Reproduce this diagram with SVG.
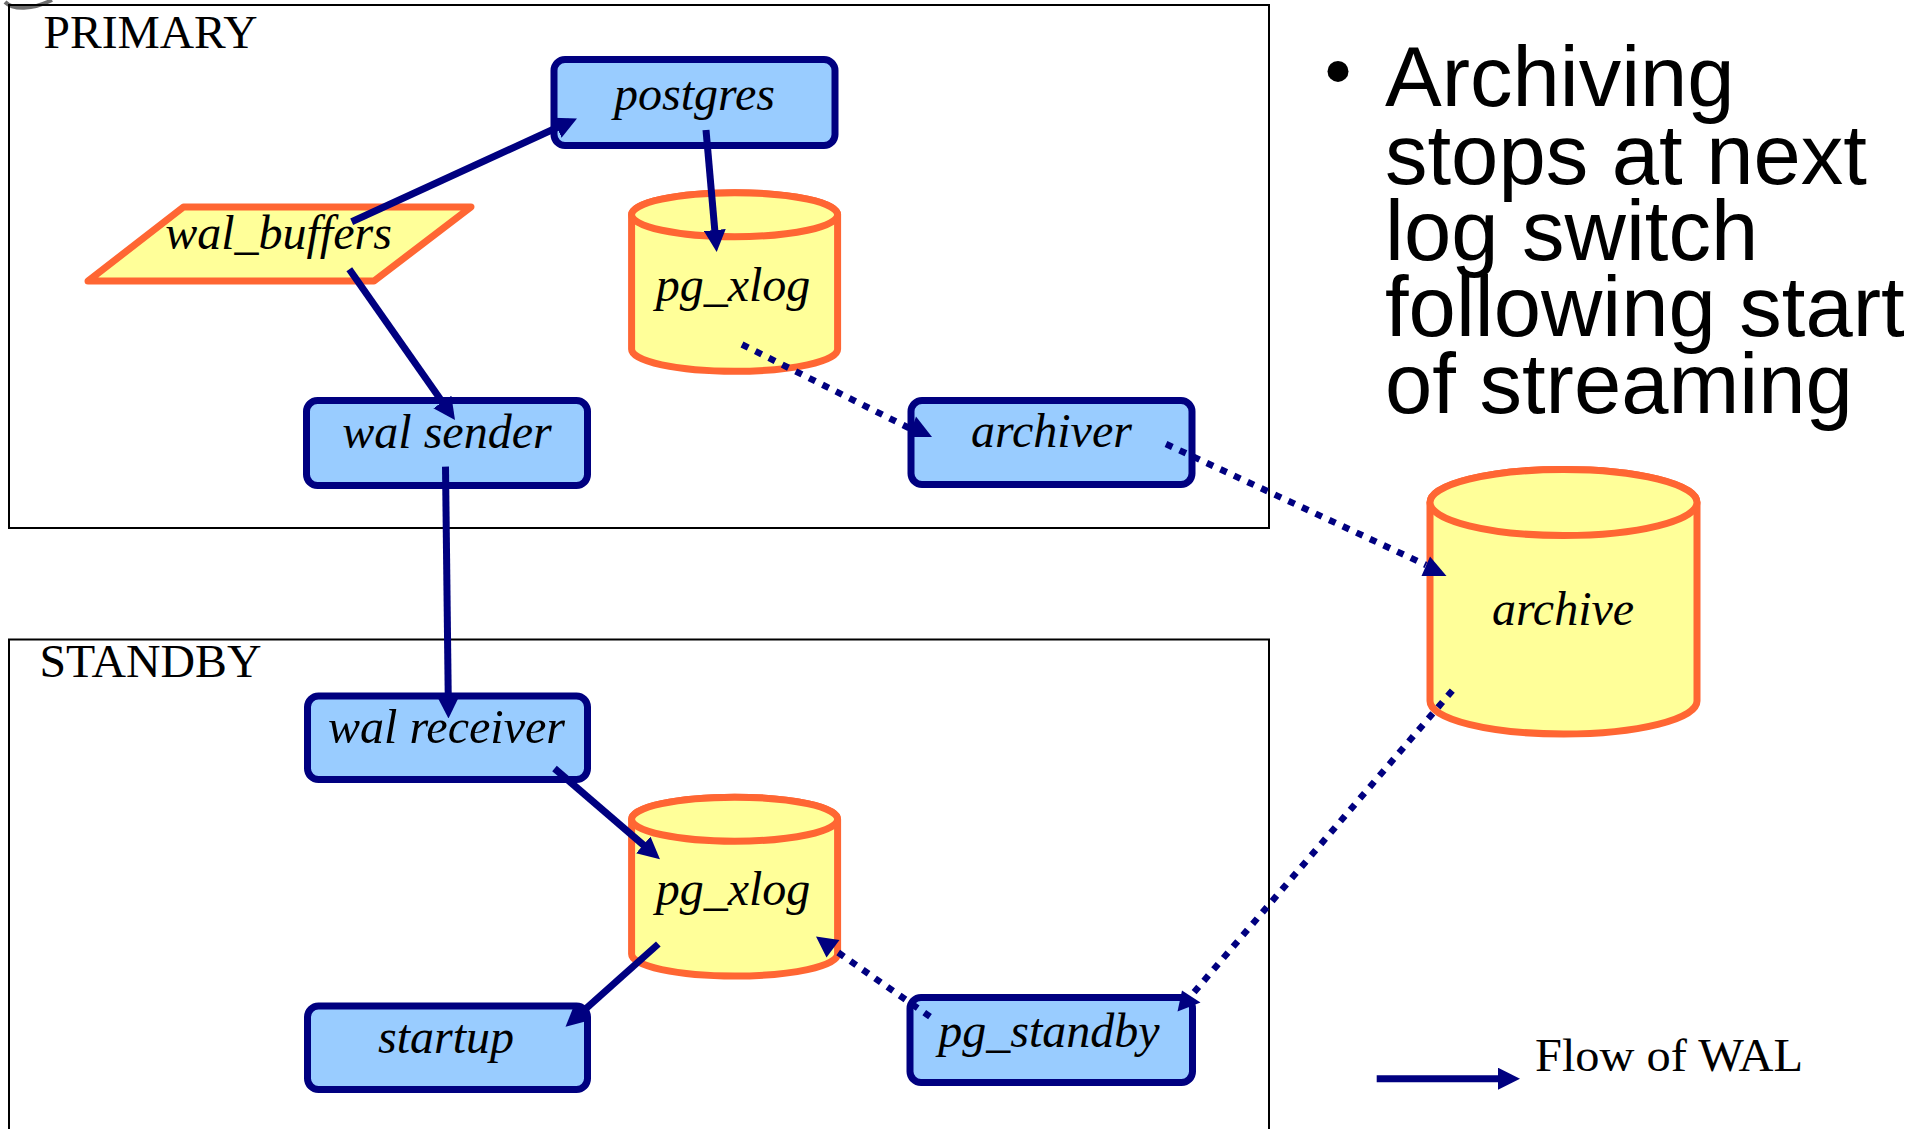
<svg xmlns="http://www.w3.org/2000/svg" width="1930" height="1129" viewBox="0 0 1930 1129">
  <style>
    .frame { fill: none; stroke: #000000; stroke-width: 2; }
    .frame-label { font-family: "Liberation Serif", "Times New Roman", serif; font-size: 47px; fill: #000000; }
    .proc { fill: #99CCFF; stroke: #000080; stroke-width: 7; }
    .store { fill: #FFFF99; stroke: #FF6633; stroke-width: 7; stroke-linejoin: round; }
    .label { font-family: "Liberation Serif", "Times New Roman", serif; font-style: italic; font-size: 48px; fill: #000000; text-anchor: middle; }
    .flow { fill: none; stroke: #000080; stroke-width: 7; }
    .copy { fill: none; stroke: #000080; stroke-width: 6.5; stroke-dasharray: 7 8; }
    .head { fill: #000080; }
    .bullet-text { font-family: "Liberation Sans", Arial, sans-serif; font-size: 85px; fill: #000000; }
    .legend { font-family: "Liberation Serif", "Times New Roman", serif; font-size: 47px; fill: #000000; }
  </style>
  <defs>
    <marker id="arrow" viewBox="0 0 22 22" refX="14" refY="11" markerWidth="22" markerHeight="22" markerUnits="userSpaceOnUse" orient="auto">
      <path d="M0,0 L22,11 L0,22 z" fill="#000080"/>
    </marker>
  </defs>

  <rect width="1930" height="1129" fill="#ffffff"/>

  <!-- corner mark -->
  <path d="M 5,2 C 13,10 32,10 52,0" fill="none" stroke="#6e6e6e" stroke-width="4"/>

  <!-- server frames -->
  <g id="primary-frame">
    <rect class="frame" x="9" y="5" width="1260" height="523"/>
    <text class="frame-label" x="43.5" y="48" textLength="214" lengthAdjust="spacingAndGlyphs">PRIMARY</text>
  </g>
  <g id="standby-frame">
    <rect class="frame" x="9" y="639.5" width="1260" height="600"/>
    <text class="frame-label" x="39.5" y="677" textLength="222" lengthAdjust="spacingAndGlyphs">STANDBY</text>
  </g>

  <!-- primary side -->
  <g id="postgres">
    <rect class="proc" x="554" y="59.5" width="281" height="86" rx="11"/>
    <text class="label" x="694.5" y="110">postgres</text>
  </g>
  <g id="wal-buffers">
    <polygon class="store" points="183.5,207 471,207 374,281 88,281"/>
    <text class="label" x="278.5" y="248.5">wal_buffers</text>
  </g>
  <g id="pg-xlog-primary">
    <path class="store" d="M631.6,214.7 L631.6,349.3 A103,22 0 0 0 837.6,349.3 L837.6,214.7 A103,22 0 0 0 631.6,214.7 Z"/>
    <ellipse class="store" cx="734.6" cy="214.7" rx="103" ry="22"/>
    <text class="label" x="733" y="300.5">pg_xlog</text>
  </g>
  <g id="wal-sender">
    <rect class="proc" x="306.5" y="400.5" width="281" height="85" rx="11"/>
    <text class="label" x="447" y="447.5">wal sender</text>
  </g>
  <g id="archiver">
    <rect class="proc" x="911" y="400.5" width="281" height="84" rx="11"/>
    <text class="label" x="1051.5" y="446.5">archiver</text>
  </g>

  <!-- shared archive -->
  <g id="archive">
    <path class="store" d="M1430,502.5 L1430,701 A133.5,33 0 0 0 1697,701 L1697,502.5 A133.5,33 0 0 0 1430,502.5 Z"/>
    <ellipse class="store" cx="1563.5" cy="502.5" rx="133.5" ry="33"/>
    <text class="label" x="1563" y="624.5">archive</text>
  </g>

  <!-- standby side -->
  <g id="wal-receiver">
    <rect class="proc" x="307.5" y="696" width="280" height="83.5" rx="11"/>
    <text class="label" x="446.5" y="743.3" textLength="237" lengthAdjust="spacingAndGlyphs">wal receiver</text>
  </g>
  <g id="pg-xlog-standby">
    <path class="store" d="M631.6,819.2 L631.6,954 A103,22 0 0 0 837.6,954 L837.6,819.2 A103,22 0 0 0 631.6,819.2 Z"/>
    <ellipse class="store" cx="734.6" cy="819.2" rx="103" ry="22"/>
    <text class="label" x="733" y="904.5">pg_xlog</text>
  </g>
  <g id="startup">
    <rect class="proc" x="307.5" y="1006" width="280" height="83.5" rx="11"/>
    <text class="label" x="446" y="1053.3">startup</text>
  </g>
  <g id="pg-standby">
    <rect class="proc" x="910" y="997.5" width="282.5" height="85" rx="11"/>
    <text class="label" x="1049" y="1046.5">pg_standby</text>
  </g>

  <!-- WAL flow and archive copy connectors -->
  <g id="connectors">
    <line class="flow" x1="351.7" y1="221.7" x2="569.7" y2="121.8" marker-end="url(#arrow)"/>
    <line class="flow" x1="706" y1="130" x2="716" y2="244" marker-end="url(#arrow)"/>
    <line class="flow" x1="349.3" y1="269.3" x2="450.4" y2="413.5" marker-end="url(#arrow)"/>
    <line class="flow" x1="445.5" y1="466.6" x2="448.4" y2="710.5" marker-end="url(#arrow)"/>
    <line class="flow" x1="554.5" y1="768.5" x2="653.9" y2="854" marker-end="url(#arrow)"/>
    <line class="flow" x1="658.3" y1="944" x2="571.5" y2="1021.5" marker-end="url(#arrow)"/>

    <line class="copy" x1="742" y1="344.5" x2="909" y2="428"/>
    <polygon class="head" points="916,416.5 932,437 909,437"/>

    <line class="copy" x1="1166" y1="444" x2="1426" y2="565"/>
    <polygon class="head" points="1430,556.5 1446.5,576 1421.5,576"/>

    <line class="copy" x1="1452.3" y1="690.6" x2="1190" y2="997"/>
    <polygon class="head" points="1182,990.5 1200.5,1002.5 1177.5,1011.5"/>

    <line class="copy" x1="930" y1="1016.7" x2="836" y2="951"/>
    <polygon class="head" points="816,936.5 839.5,940 826.5,957.5"/>
  </g>

  <!-- note -->
  <g id="note">
    <circle cx="1338" cy="71.4" r="10.5" fill="#000000"/>
    <text class="bullet-text" x="1385" y="106.4">Archiving</text>
    <text class="bullet-text" x="1385" y="183.5">stops at next</text>
    <text class="bullet-text" x="1385" y="260">log switch</text>
    <text class="bullet-text" x="1385" y="336">following start</text>
    <text class="bullet-text" x="1385" y="412.5">of streaming</text>
  </g>

  <!-- legend -->
  <g id="legend">
    <line class="flow" x1="1376.7" y1="1078.7" x2="1512" y2="1078.7" marker-end="url(#arrow)"/>
    <text class="legend" x="1535" y="1070.7" textLength="268" lengthAdjust="spacingAndGlyphs">Flow of WAL</text>
  </g>
</svg>
